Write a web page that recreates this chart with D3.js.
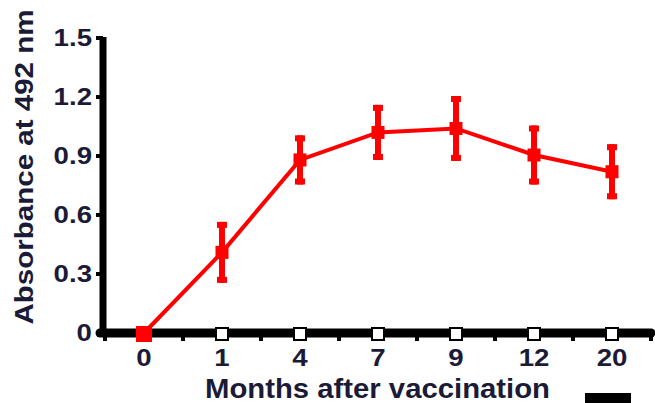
<!DOCTYPE html>
<html>
<head>
<meta charset="utf-8">
<script src="https://cdn.jsdelivr.net/npm/d3@7/dist/d3.min.js"></script>
<style>
  html, body { margin: 0; padding: 0; background: #fff; }
  svg { display: block; }
  text { font-family: "Liberation Sans", Arial, sans-serif; fill: #1b1b38; }
</style>
</head>
<body>
<svg id="chart" width="655" height="403"></svg>
<script>
// Months after vaccination (categorical axis)
const months = ["0", "1", "4", "7", "9", "12", "20"];
// Vaccinated group: mean absorbance and error
const vaccinated = [0, 0.41, 0.88, 1.02, 1.04, 0.905, 0.82];
const vaccinatedErr = [0, 0.155, 0.125, 0.14, 0.165, 0.15, 0.14];
// Control group: stays at baseline
const control = [0, 0, 0, 0, 0, 0, 0];
// Y axis tick values
const yTicks = [0, 0.3, 0.6, 0.9, 1.2, 1.5];
const yTickLabels = ["0", "0.3", "0.6", "0.9", "1.2", "1.5"];

const svg = d3.select("#chart");

const x = d3.scaleBand().domain(months).range([105, 651]).paddingInner(0).paddingOuter(0);
const y = d3.scaleLinear().domain([0, 1.5]).range([333, 38]);
const cx = m => x(m) + x.bandwidth() / 2;

// widen glyphs to the chart's type proportions
function stretch(sel, k) {
  sel.each(function () {
    const w = this.getComputedTextLength();
    d3.select(this).attr("textLength", w * k).attr("lengthAdjust", "spacingAndGlyphs");
  });
}

// Y axis
const yAxis = svg.append("g");
yAxis.append("line")
  .attr("x1", 103).attr("x2", 103)
  .attr("y1", y(1.5) - 1).attr("y2", y(0) + 4)
  .attr("stroke", "#000").attr("stroke-width", 7);
yAxis.selectAll("line.tick").data(yTicks).enter().append("line")
  .attr("class", "tick")
  .attr("x1", 96).attr("x2", 103)
  .attr("y1", d => y(d)).attr("y2", d => y(d))
  .attr("stroke", "#000").attr("stroke-width", 4);
yAxis.selectAll("text").data(yTicks).enter().append("text")
  .attr("x", 92).attr("y", d => y(d) + 8)
  .attr("text-anchor", "end")
  .attr("font-size", 24).attr("font-weight", "bold")
  .text((d, i) => yTickLabels[i])
  .call(stretch, 1.15);

// X axis
const xAxis = svg.append("g");
xAxis.append("line")
  .attr("x1", 100).attr("x2", 651)
  .attr("y1", y(0)).attr("y2", y(0))
  .attr("stroke", "#000").attr("stroke-width", 9)
  .attr("stroke-linecap", "round");
const bounds = months.map(m => x(m)).concat([x(months[months.length - 1]) + x.bandwidth()]);
xAxis.selectAll("line.tick").data(bounds).enter().append("line")
  .attr("class", "tick")
  .attr("x1", d => d).attr("x2", d => d)
  .attr("y1", y(0)).attr("y2", y(0) + 8)
  .attr("stroke", "#000").attr("stroke-width", 4);
xAxis.selectAll("text").data(months).enter().append("text")
  .attr("x", d => cx(d)).attr("y", 366)
  .attr("text-anchor", "middle")
  .attr("font-size", 24).attr("font-weight", "bold")
  .text(d => d)
  .call(stretch, 1.15);

// Axis titles
svg.append("text")
  .attr("x", 205).attr("y", 398)
  .attr("font-size", 28).attr("font-weight", "bold")
  .attr("textLength", 345).attr("lengthAdjust", "spacingAndGlyphs")
  .text("Months after vaccination");
svg.append("text")
  .attr("transform", "translate(33,167) rotate(-90)")
  .attr("text-anchor", "middle")
  .attr("font-size", 25).attr("font-weight", "bold")
  .attr("textLength", 315).attr("lengthAdjust", "spacingAndGlyphs")
  .text("Absorbance at 492 nm");

// Control series: open squares on the baseline
svg.append("g").selectAll("rect").data(months).enter().append("rect")
  .attr("x", (d) => cx(d) - 6).attr("y", (d, i) => y(control[i]) - 6 + 1)
  .attr("width", 12).attr("height", 12)
  .attr("fill", "#fff").attr("stroke", "#000").attr("stroke-width", 2);

// Vaccinated series: line, error bars, filled squares
const red = "#ff0000";
const line = d3.line().x((d, i) => cx(months[i])).y(d => y(d));
svg.append("path")
  .datum(vaccinated)
  .attr("d", line)
  .attr("fill", "none").attr("stroke", red).attr("stroke-width", 4);

const eb = svg.append("g");
months.forEach((m, i) => {
  const e = vaccinatedErr[i];
  if (e <= 0) return;
  const top = y(vaccinated[i] + e), bot = y(vaccinated[i] - e);
  eb.append("rect").attr("x", cx(m) - 3).attr("y", top).attr("width", 6).attr("height", bot - top).attr("fill", red);
  eb.append("rect").attr("x", cx(m) - 5).attr("y", top).attr("width", 10).attr("height", 6).attr("fill", red);
  eb.append("rect").attr("x", cx(m) - 5).attr("y", bot - 6).attr("width", 10).attr("height", 6).attr("fill", red);
});

svg.append("g").selectAll("rect").data(vaccinated).enter().append("rect")
  .attr("x", (d, i) => cx(months[i]) - (i === 0 ? 8 : 6.5))
  .attr("y", (d, i) => y(d) - (i === 0 ? 7 : 6.5))
  .attr("width", (d, i) => i === 0 ? 16 : 13)
  .attr("height", (d, i) => i === 0 ? 16 : 13)
  .attr("fill", red);

// Scale bar in the lower right corner
svg.append("rect").attr("x", 585).attr("y", 393).attr("width", 46).attr("height", 10).attr("fill", "#000");
</script>
</body>
</html>
